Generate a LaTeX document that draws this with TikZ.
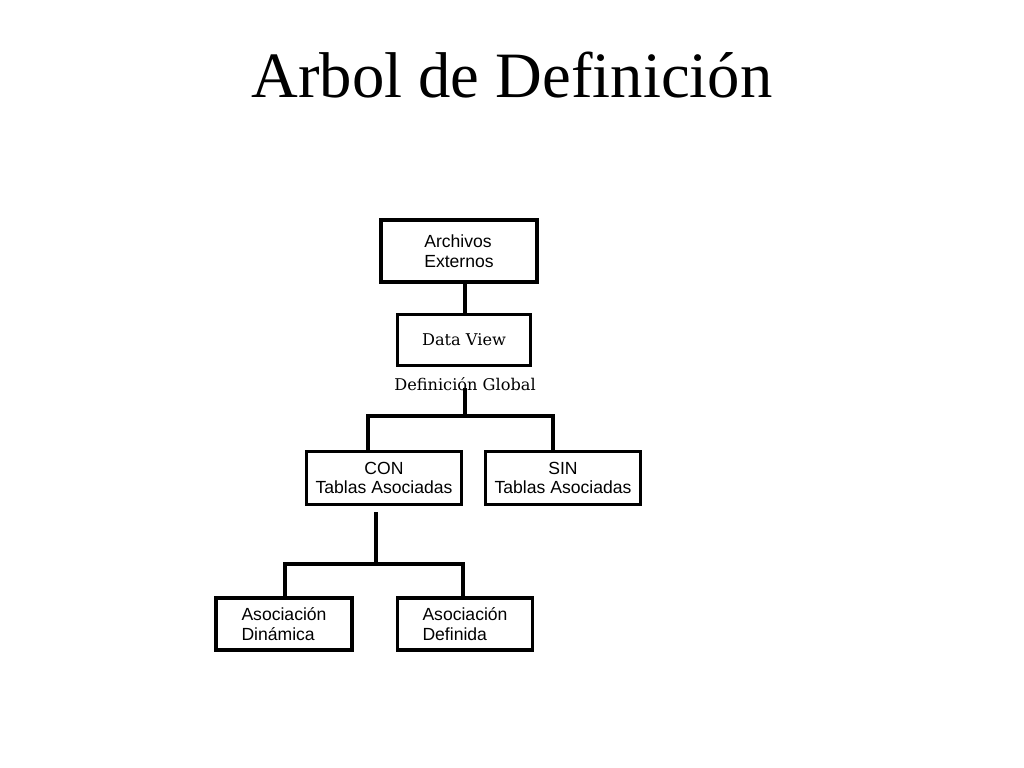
\documentclass[tikz,border=0pt]{standalone}
\usepackage{fontspec}
\setmainfont{Liberation Serif}
\newfontfamily\boxfont{Liberation Sans}
\newfontfamily\dvfont{DejaVu Serif}
\usetikzlibrary{positioning}

\begin{document}
\begin{tikzpicture}[x=0.025cm,y=-0.025cm]
	\tikzset{tbox/.style={draw, line width=2.8pt, rectangle, align=left, font=\boxfont\fontsize{12.5}{14}\selectfont, inner sep=2pt},
		link/.style={line width=2.8pt}}
	\useasboundingbox (0,0) rectangle (1024,768);

	\node (title) at (512,75) {\fontsize{46}{50}\selectfont Arbol de Definición};

	\node [tbox, minimum width=156*0.025cm, minimum height=62*0.025cm] (archivos) at (459,251) {Archivos\\Externos};
	\node [tbox, minimum width=133*0.025cm, minimum height=51*0.025cm, font=\dvfont\fontsize{11.5}{13}\selectfont] (dataview) at (464,340) {Data View};
	\node [font=\dvfont\fontsize{11.5}{13}\selectfont] (global) at (465,384) {Definición Global};
	\node [tbox, minimum width=155*0.025cm, minimum height=53*0.025cm, align=center] (con) at (384,478) {CON\\Tablas Asociadas};
	\node [tbox, minimum width=155*0.025cm, minimum height=53*0.025cm, align=center] (sin) at (563,478) {SIN\\Tablas Asociadas};
	\node [tbox, minimum width=136*0.025cm, minimum height=52*0.025cm] (dinamica) at (284,624) {Asociación\\Dinámica};
	\node [tbox, minimum width=135*0.025cm, minimum height=52*0.025cm] (definida) at (465,624) {Asociación\\Definida};

	\draw [link] (archivos.south -| 465,0) -- (dataview.north -| 465,0);
	\coordinate (jtop) at (465,416);
	\draw [link] (465,388) -- (jtop);
	\draw [link] (con.north -| 368,0) -- (368,416) -- (553,416) -- (sin.north -| 553,0);
	\coordinate (jlow) at (376,564);
	\draw [link] (376,512) -- (jlow);
	\draw [link] (dinamica.north -| 285,0) -- (285,564) -- (463,564) -- (definida.north -| 463,0);
\end{tikzpicture}
\end{document}
